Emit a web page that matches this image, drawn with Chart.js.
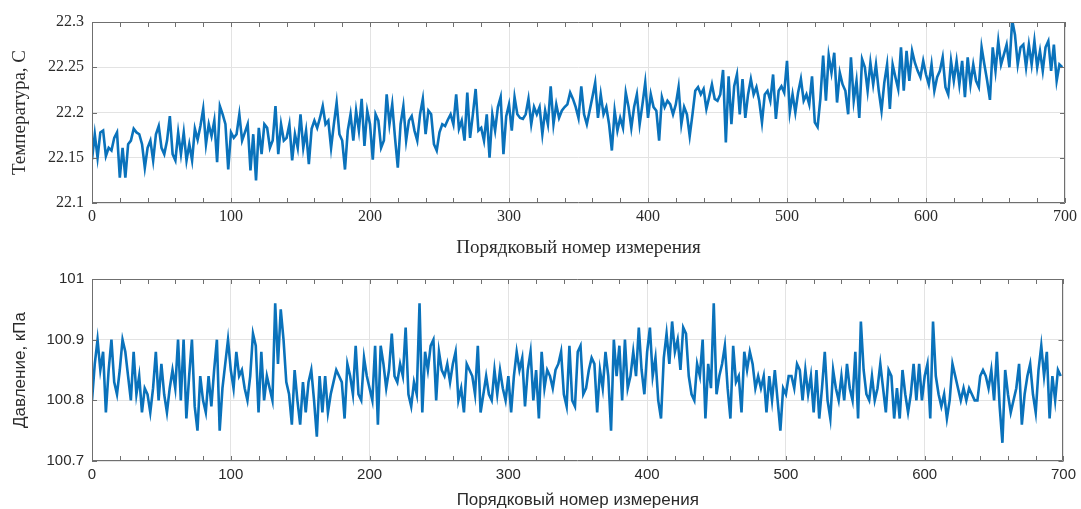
<!DOCTYPE html>
<html>
<head>
<meta charset="utf-8">
<script src="https://cdn.jsdelivr.net/npm/chart.js@4.4.1/dist/chart.umd.min.js"></script>
<style>
  html, body { margin: 0; padding: 0; background: #fff; }
  #wrap { position: relative; width: 1081px; height: 509px; overflow: hidden; }
  .panel { position: absolute; left: 0; width: 1081px; }
  #p1 { top: 0; height: 262px; }
  #p2 { top: 262px; height: 247px; }
</style>
</head>
<body>
<div id="wrap">
  <div class="panel" id="p1"><canvas id="c1"></canvas></div>
  <div class="panel" id="p2"><canvas id="c2"></canvas></div>
</div>
<script>
// Sample number of each stored reading = index * sampleStep
const sampleStep = 2;

// Temperature, °C
const temperature = [
  22.148, 22.176, 22.150, 22.178, 22.180, 22.152, 22.161, 22.158, 22.172, 22.178,
  22.128, 22.161, 22.128, 22.165, 22.169, 22.182, 22.178, 22.176, 22.165, 22.139,
  22.161, 22.169, 22.147, 22.176, 22.185, 22.161, 22.154, 22.169, 22.196, 22.154,
  22.147, 22.178, 22.154, 22.178, 22.147, 22.165, 22.147, 22.182, 22.170, 22.185,
  22.204, 22.165, 22.187, 22.174, 22.191, 22.145, 22.207, 22.198, 22.187, 22.137,
  22.178, 22.172, 22.176, 22.198, 22.169, 22.178, 22.187, 22.136, 22.176,
  22.125, 22.183, 22.154, 22.187, 22.183, 22.161, 22.169, 22.207, 22.154, 22.187,
  22.169, 22.172, 22.187, 22.147, 22.176, 22.161, 22.198, 22.161, 22.180, 22.143,
  22.182, 22.191, 22.183, 22.194, 22.207, 22.187, 22.191, 22.161, 22.187, 22.211,
  22.176, 22.169, 22.137, 22.180, 22.198, 22.169, 22.202, 22.180, 22.215, 22.163,
  22.202, 22.187, 22.148, 22.198, 22.191, 22.161, 22.169, 22.220, 22.187, 22.209,
  22.172, 22.139, 22.187, 22.207, 22.169, 22.191, 22.196, 22.180, 22.169,
  22.198, 22.215, 22.176, 22.202, 22.198, 22.165, 22.158, 22.178, 22.187, 22.185,
  22.192, 22.198, 22.187, 22.220, 22.182, 22.191, 22.169, 22.222, 22.172, 22.198,
  22.226, 22.180, 22.183, 22.169, 22.198, 22.150, 22.198, 22.180, 22.206, 22.217,
  22.154, 22.196, 22.209, 22.180, 22.217, 22.198, 22.194, 22.193, 22.198, 22.215,
  22.187, 22.206, 22.198, 22.206, 22.176, 22.202, 22.187, 22.229, 22.187, 22.209,
  22.194, 22.202, 22.206, 22.209, 22.222, 22.215, 22.206, 22.194, 22.229, 22.198,
  22.187, 22.202, 22.217, 22.233, 22.194, 22.220, 22.198, 22.206, 22.187, 22.158,
  22.202, 22.180, 22.194, 22.183, 22.222, 22.206, 22.183, 22.206, 22.220, 22.187,
  22.209, 22.233, 22.194, 22.220, 22.206, 22.202, 22.169, 22.217, 22.206, 22.213,
  22.209, 22.198, 22.209, 22.228, 22.187, 22.206, 22.198, 22.174, 22.198, 22.224,
  22.228, 22.220, 22.226, 22.204, 22.217, 22.231, 22.215, 22.213, 22.220, 22.247,
  22.167, 22.240, 22.187, 22.229, 22.242, 22.198, 22.237, 22.194, 22.220,
  22.237, 22.220, 22.228, 22.213, 22.189, 22.220, 22.224, 22.213, 22.242, 22.193,
  22.224, 22.229, 22.222, 22.257, 22.200, 22.220, 22.200, 22.222, 22.237, 22.213,
  22.220, 22.209, 22.240, 22.189, 22.184, 22.215, 22.263, 22.213, 22.263, 22.244,
  22.266, 22.211, 22.244, 22.231, 22.224, 22.198, 22.261, 22.213, 22.235, 22.194,
  22.259, 22.250, 22.224, 22.255, 22.231, 22.253, 22.224, 22.202, 22.233, 22.253,
  22.204, 22.253, 22.239, 22.226, 22.272, 22.224, 22.268, 22.235, 22.268, 22.255,
  22.246, 22.239, 22.257, 22.242, 22.231, 22.253, 22.224, 22.239, 22.246, 22.261,
  22.228, 22.220, 22.257, 22.235, 22.257, 22.231, 22.257, 22.217, 22.261, 22.231,
  22.253, 22.235, 22.228, 22.272, 22.253, 22.235, 22.214, 22.272, 22.246, 22.279,
  22.253, 22.264, 22.275, 22.250, 22.302, 22.286, 22.253, 22.272, 22.275, 22.250,
  22.275, 22.253, 22.279, 22.250, 22.268, 22.246, 22.272, 22.279, 22.246, 22.275,
  22.235, 22.253, 22.250
];

// Pressure, kPa
const pressure = [
  100.80, 100.86, 100.90, 100.85, 100.88, 100.78, 100.85, 100.90, 100.83, 100.81,
  100.85, 100.90, 100.88, 100.84, 100.80, 100.88, 100.81, 100.84, 100.78, 100.82,
  100.81, 100.78, 100.82, 100.88, 100.80, 100.86, 100.81, 100.78, 100.82, 100.85,
  100.82, 100.90, 100.80, 100.90, 100.77, 100.84, 100.90, 100.79, 100.75, 100.84,
  100.80, 100.78, 100.84, 100.79, 100.85, 100.90, 100.75, 100.82, 100.86, 100.90,
  100.85, 100.82, 100.88, 100.84, 100.85, 100.82, 100.80, 100.84, 100.91,
  100.89, 100.78, 100.88, 100.80, 100.84, 100.82, 100.80, 100.96, 100.86, 100.95,
  100.90, 100.83, 100.81, 100.76, 100.85, 100.80, 100.76, 100.83, 100.78, 100.83,
  100.85, 100.80, 100.74, 100.84, 100.78, 100.84, 100.78, 100.81, 100.83, 100.85,
  100.84, 100.83, 100.77, 100.86, 100.84, 100.81, 100.89, 100.81, 100.80, 100.87,
  100.84, 100.82, 100.80, 100.89, 100.76, 100.89, 100.86, 100.82, 100.85, 100.91,
  100.84, 100.83, 100.86, 100.84, 100.92, 100.81, 100.79, 100.83, 100.81,
  100.96, 100.78, 100.88, 100.85, 100.89, 100.90, 100.80, 100.88, 100.85, 100.84,
  100.86, 100.83, 100.86, 100.88, 100.80, 100.82, 100.78, 100.86, 100.85, 100.84,
  100.81, 100.89, 100.78, 100.81, 100.84, 100.81, 100.80, 100.85, 100.81, 100.85,
  100.82, 100.80, 100.84, 100.78, 100.84, 100.88, 100.85, 100.87, 100.79, 100.85,
  100.88, 100.80, 100.85, 100.77, 100.88, 100.82, 100.85, 100.84, 100.82, 100.85,
  100.86, 100.88, 100.81, 100.79, 100.89, 100.80, 100.79, 100.88, 100.89, 100.81,
  100.82, 100.85, 100.87, 100.86, 100.78, 100.85, 100.82, 100.88, 100.84, 100.75,
  100.90, 100.84, 100.89, 100.80, 100.90, 100.82, 100.84, 100.88, 100.84, 100.92,
  100.85, 100.81, 100.88, 100.92, 100.84, 100.87, 100.80, 100.77, 100.87, 100.91,
  100.86, 100.93, 100.88, 100.90, 100.85, 100.92, 100.91, 100.84, 100.81, 100.80,
  100.86, 100.84, 100.90, 100.77, 100.86, 100.82, 100.96, 100.81, 100.84, 100.86,
  100.89, 100.82, 100.77, 100.89, 100.83, 100.84, 100.78, 100.88, 100.85,
  100.88, 100.86, 100.82, 100.84, 100.82, 100.84, 100.78, 100.84, 100.80, 100.85,
  100.80, 100.75, 100.82, 100.81, 100.84, 100.84, 100.82, 100.86, 100.85, 100.80,
  100.85, 100.81, 100.84, 100.78, 100.85, 100.77, 100.82, 100.88, 100.80, 100.77,
  100.85, 100.82, 100.80, 100.84, 100.80, 100.86, 100.82, 100.80, 100.88, 100.77,
  100.93, 100.85, 100.81, 100.80, 100.84, 100.80, 100.82, 100.86, 100.82, 100.78,
  100.85, 100.84, 100.77, 100.82, 100.77, 100.85, 100.81, 100.78, 100.81, 100.86,
  100.80, 100.86, 100.80, 100.84, 100.86, 100.77, 100.93, 100.84, 100.81, 100.79,
  100.81, 100.77, 100.80, 100.86, 100.84, 100.82, 100.80, 100.82, 100.80, 100.82,
  100.81, 100.80, 100.80, 100.84, 100.85, 100.84, 100.82, 100.85, 100.80, 100.88,
  100.79, 100.73, 100.85, 100.81, 100.78, 100.80, 100.82, 100.86, 100.76, 100.81,
  100.84, 100.86, 100.81, 100.78, 100.85, 100.89, 100.84, 100.88, 100.77, 100.84,
  100.80, 100.85, 100.84
];

// Axis ticks
const xTicks = [0, 100, 200, 300, 400, 500, 600, 700];
const xMinorStep = 20;
const tempTicks = [22.1, 22.15, 22.2, 22.25, 22.3];
const pressTicks = [100.7, 100.8, 100.9, 101];

const xLabel = 'Порядковый номер измерения';
const tempLabel = 'Температура, С';
const pressLabel = 'Давление, кПа';

const LINE = '#0a72bb';
const TEXT = '#2b2b2b';
const GRID = '#e3e3e3';
const FRAME = '#6f6f6f';

function toPoints(values) {
  return values.map((v, i) => ({ x: i * sampleStep, y: v }));
}

// Axes box with inward tick marks
const boxPlugin = {
  id: 'box',
  afterDatasetsDraw(chart) {
    const { ctx, chartArea: a, scales } = chart;
    const xs = scales.x, ys = scales.y;
    ctx.save();
    ctx.strokeStyle = FRAME;
    ctx.lineWidth = 1;
    ctx.beginPath();
    ctx.rect(Math.round(a.left) + 0.5, Math.round(a.top) + 0.5,
             Math.round(a.right - a.left) - 1, Math.round(a.bottom - a.top) - 1);
    ctx.stroke();
    ctx.beginPath();
    for (let v = xs.min; v <= xs.max; v += xMinorStep) {
      const px = Math.round(xs.getPixelForValue(v)) + 0.5;
      ctx.moveTo(px, a.top); ctx.lineTo(px, a.top + 5);
      ctx.moveTo(px, a.bottom); ctx.lineTo(px, a.bottom - 5);
    }
    ys.ticks.forEach(t => {
      const py = Math.round(ys.getPixelForValue(t.value)) + 0.5;
      ctx.moveTo(a.left, py); ctx.lineTo(a.left + 5, py);
      ctx.moveTo(a.right, py); ctx.lineTo(a.right - 5, py);
    });
    ctx.stroke();
    ctx.restore();
  }
};

function makeChart(canvasId, cfg) {
  return new Chart(document.getElementById(canvasId), {
    type: 'line',
    data: {
      datasets: [{
        data: toPoints(cfg.values),
        borderColor: LINE,
        borderWidth: 2.6,
        pointRadius: 0,
        tension: 0,
        fill: false
      }]
    },
    options: {
      responsive: true,
      maintainAspectRatio: false,
      animation: false,
      events: [],
      layout: { padding: { top: cfg.padTop, right: 16, left: 0, bottom: 0 } },
      plugins: { legend: { display: false }, tooltip: { enabled: false } },
      scales: {
        x: {
          type: 'linear',
          min: 0, max: 700,
          afterBuildTicks: s => { s.ticks = xTicks.map(v => ({ value: v })); },
          afterFit: s => { s.height = cfg.xHeight; },
          ticks: {
            font: { family: cfg.family, size: cfg.tickSize },
            color: TEXT, padding: cfg.xTickPad, maxRotation: 0,
            callback: v => String(v)
          },
          grid: { color: GRID, drawTicks: false },
          border: { display: false },
          title: {
            display: true, text: xLabel, color: TEXT,
            font: { family: cfg.family, size: cfg.titleSize, lineHeight: 1.0 },
            padding: { top: 0, bottom: cfg.xTitlePad }
          }
        },
        y: {
          min: cfg.yTicks[0], max: cfg.yTicks[cfg.yTicks.length - 1],
          afterBuildTicks: s => { s.ticks = cfg.yTicks.map(v => ({ value: v })); },
          afterFit: s => { s.width = 92; },
          ticks: {
            font: { family: cfg.family, size: cfg.tickSize },
            color: TEXT, padding: 8,
            callback: v => String(+v.toFixed(2))
          },
          grid: { color: GRID, drawTicks: false },
          border: { display: false },
          title: {
            display: true, text: cfg.yLabel, color: TEXT,
            font: { family: cfg.family, size: cfg.titleSize, lineHeight: 1.0 },
            padding: { top: cfg.yTitlePad, bottom: 0 }
          }
        }
      }
    },
    plugins: [boxPlugin]
  });
}

makeChart('c1', {
  values: temperature, yTicks: tempTicks, yLabel: tempLabel,
  family: '"Liberation Serif", "DejaVu Serif", serif',
  tickSize: 16, titleSize: 19,
  padTop: 22, xHeight: 59, xTickPad: 4, xTitlePad: 4, yTitlePad: 10.5
});

makeChart('c2', {
  values: pressure, yTicks: pressTicks, yLabel: pressLabel,
  family: '"Liberation Sans", Arial, sans-serif',
  tickSize: 15, titleSize: 17,
  padTop: 11, xHeight: 48, xTickPad: 5, xTitlePad: 0, yTitlePad: 11.5
});
</script>
</body>
</html>
